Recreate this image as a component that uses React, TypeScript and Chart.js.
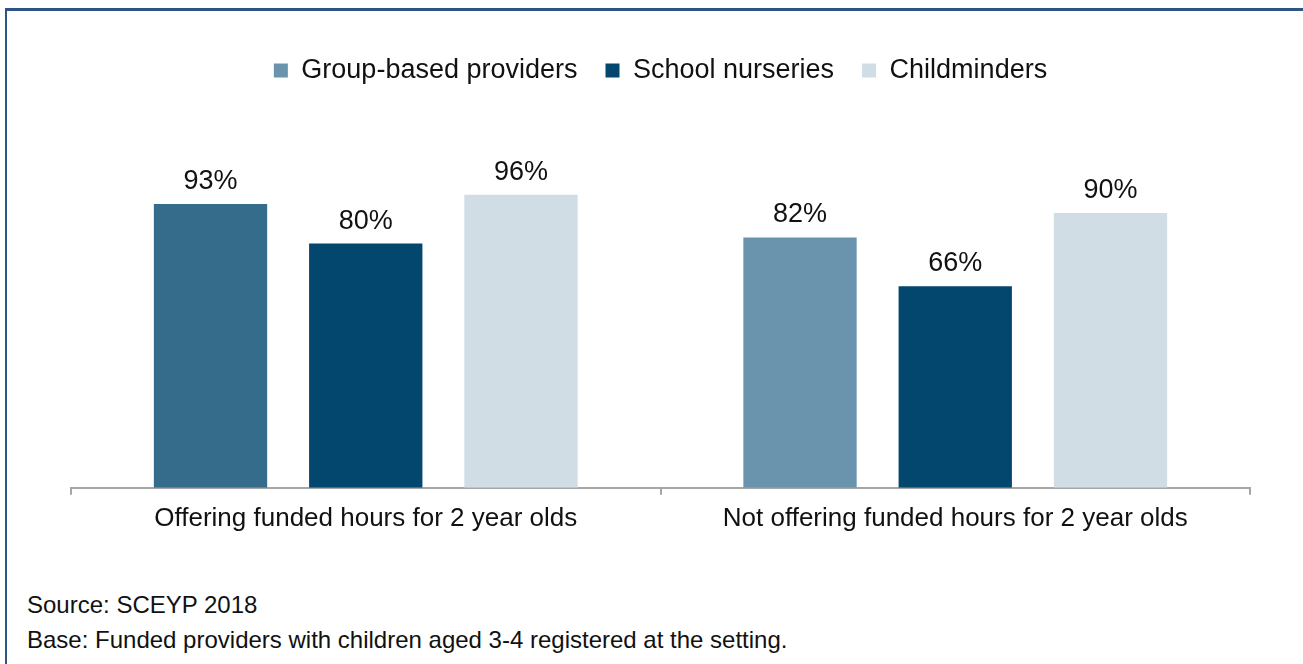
import React, { useEffect, useRef } from "react";
import { Chart, registerables } from "chart.js";

Chart.register(...registerables);

const categories = [
  "Offering funded hours for 2 year olds",
  "Not offering funded hours for 2 year olds",
];
const seriesNames = ["Group-based providers", "School nurseries", "Childminders"];
const groupBased = [93, 82];
const schoolNurseries = [80, 66];
const childminders = [96, 90];
const groupBasedBarColors = ["#356b8b", "#6a93ad"];
const legendColors = ["#6a93ad", "#03476e", "#d0dde5"];
const sourceNote = "Source: SCEYP 2018";
const baseNote = "Base: Funded providers with children aged 3-4 registered at the setting.";

const FONT = "'Liberation Sans', Arial, sans-serif";

const valueLabels = {
  id: "valueLabels",
  afterDatasetsDraw(chart: any) {
    const ctx = chart.ctx;
    ctx.save();
    ctx.font = `27px ${FONT}`;
    ctx.fillStyle = "#111111";
    ctx.textAlign = "center";
    ctx.textBaseline = "alphabetic";
    chart.data.datasets.forEach((ds: any, di: number) => {
      const meta = chart.getDatasetMeta(di);
      meta.data.forEach((el: any, i: number) => {
        ctx.fillText(`${ds.data[i]}%`, el.x, el.y - 15);
      });
    });
    ctx.restore();
  },
};

export default function App() {
  const ref = useRef<HTMLCanvasElement | null>(null);

  useEffect(() => {
    if (!ref.current) return;
    const chart = new Chart(ref.current, {
      type: "bar",
      data: {
        labels: categories,
        datasets: [
          { label: seriesNames[0], data: groupBased, backgroundColor: groupBasedBarColors },
          { label: seriesNames[1], data: schoolNurseries, backgroundColor: legendColors[1] },
          { label: seriesNames[2], data: childminders, backgroundColor: legendColors[2] },
        ],
      },
      options: {
        animation: false,
        responsive: false,
        maintainAspectRatio: false,
        layout: { padding: { left: 71, right: 53, top: 29, bottom: 10 } },
        datasets: { bar: { categoryPercentage: 0.79, barPercentage: 0.73 } },
        plugins: {
          tooltip: { enabled: false },
          legend: {
            position: "top",
            labels: {
              font: { family: FONT, size: 27 },
              color: "#111111",
              boxWidth: 14,
              boxHeight: 14,
              padding: 28,
              generateLabels: (c: any) =>
                Chart.defaults.plugins.legend.labels.generateLabels(c).map((l: any, i: number) => ({
                  ...l,
                  fillStyle: legendColors[i],
                  strokeStyle: legendColors[i],
                  lineWidth: 0,
                })),
            },
          },
        },
        scales: {
          y: { display: false, min: 0, max: 129 },
          x: {
            grid: {
              display: true,
              drawOnChartArea: false,
              drawTicks: true,
              tickLength: 7,
              color: "#a6a6a6",
              lineWidth: 2,
            },
            border: { display: true, color: "#a6a6a6", width: 2 },
            ticks: {
              font: { family: FONT, size: 26 },
              color: "#111111",
              padding: 8,
              maxRotation: 0,
            },
          },
        },
      },
      plugins: [valueLabels],
    });
    return () => chart.destroy();
  }, []);

  return (
    <div style={{ position: "absolute", left: 0, top: 0, width: 1303, height: 664, overflow: "hidden", background: "#fff" }}>
      <div
        style={{
          position: "absolute",
          left: 5,
          top: 8,
          width: 1400,
          height: 700,
          borderTop: "3px solid #2f5383",
          borderLeft: "2px solid #2f5383",
        }}
      />
      <canvas ref={ref} width={1303} height={552} style={{ position: "absolute", left: 0, top: 0, width: 1303, height: 552 }} />
      <div style={{ position: "absolute", left: 27, top: 591, font: `24px ${FONT}`, color: "#111" }}>{sourceNote}</div>
      <div style={{ position: "absolute", left: 27, top: 626, font: `24px ${FONT}`, color: "#111" }}>{baseNote}</div>
    </div>
  );
}
